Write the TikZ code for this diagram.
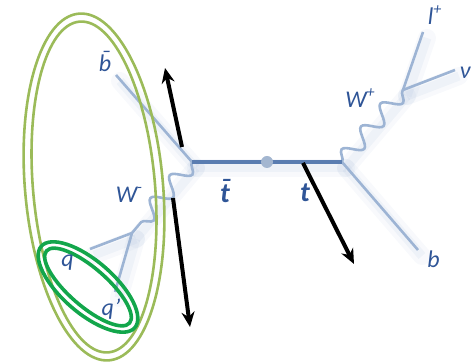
\documentclass[tikz,border=0pt]{standalone}
\usepackage{fontspec}
\setmainfont{Carlito}
\usetikzlibrary{arrows.meta, decorations.pathmorphing, calc}
\usepackage{xcolor}
\definecolor{fermlight}{HTML}{9DB4D4}
\definecolor{topblue}{HTML}{5A7DB1}
\definecolor{dotblue}{HTML}{A3B6D0}
\definecolor{labelblue}{HTML}{2F5597}
\definecolor{glowblue}{HTML}{6F8FC0}
\definecolor{olivegreen}{HTML}{9BBB59}
\definecolor{jetgreen}{HTML}{12A64B}
\newcommand{\barred}[1]{\accent"00AF #1}
\newcommand{\charge}[1]{\raisebox{0.42em}{\fontsize{16}{16}\selectfont #1}}
\tikzset{
  fermion/.style={draw=fermlight, line width=2.6pt},
  topline/.style={draw=topblue, line width=4.2pt},
  boson/.style={draw=fermlight, line width=2.6pt, decorate,
                decoration={snake, amplitude=8.5pt, segment length=30pt}},
  glow/.style={draw=glowblue, line width=18pt, opacity=0.05, line cap=round,
               preaction={draw=glowblue, line width=9pt, opacity=0.07}},
  jetarrow/.style={-{Stealth[length=15pt,width=13pt]}, line width=4pt, draw=black},
  plabel/.style={text=labelblue, font=\itshape\fontsize{24}{24}\selectfont, inner sep=0pt},
  tlabel/.style={text=labelblue, font=\bfseries\itshape\fontsize{28}{28}\selectfont, inner sep=0pt},
  olivering/.style={draw=olivegreen, line width=2.6pt},
  jetring/.style={draw=jetgreen, line width=3.6pt},
}

\begin{document}
\begin{tikzpicture}[x=1pt, y=1pt]
  \useasboundingbox (0,0) rectangle (472,363);

  % vertices and line ends
  \coordinate (tbv)   at (192,201);
  \coordinate (tv)    at (342,201);
  \coordinate (bbarend) at (116,288);
  \coordinate (wmv)   at (132,130);
  \coordinate (qend)  at (90,114);
  \coordinate (qpend) at (115,71);
  \coordinate (wpv)   at (403,273);
  \coordinate (lend)  at (423,331);
  \coordinate (nuend) at (455,293);
  \coordinate (bend)  at (418,113);

  % soft shadow under the lines
  \foreach \a/\b in {tbv/bbarend, tbv/wmv, wmv/qend, wmv/qpend, tbv/tv, tv/bend, tv/wpv, wpv/lend, wpv/nuend}
    \draw[glow] ($(\a)+(4,-6)$) -- ($(\b)+(4,-6)$);

  % decay lines
  \draw[fermion] (tbv) -- (bbarend);
  \draw[fermion] (wmv) -- (qend);
  \draw[fermion] (wmv) -- (qpend);
  \draw[fermion] (tv) -- (bend);
  \draw[fermion] (wpv) -- (lend);
  \draw[fermion] (wpv) -- (nuend);
  \draw[boson] (tbv) -- (wmv);
  \draw[boson] (tv) -- (wpv);
  \draw[topline] (tbv) -- (tv);
  \node[circle, fill=dotblue, minimum size=12pt, inner sep=0pt] (mid) at (267,201) {};

  % jet directions
  \coordinate (ja0) at (182,216); \coordinate (ja1) at (165,295);
  \coordinate (jb0) at (173,165); \coordinate (jb1) at (190,36);
  \coordinate (jc0) at (303,200); \coordinate (jc1) at (354,99);
  \draw[jetarrow] (ja0) -- (ja1);
  \draw[jetarrow] (jb0) -- (jb1);
  \draw[jetarrow] (jc0) -- (jc1);

  % jet cones
  \draw[olivering, rotate around={5:(94,176)}] (94,176) ellipse [x radius=69, y radius=174];
  \draw[olivering, rotate around={5:(94,176)}] (94,176) ellipse [x radius=61, y radius=166];
  \draw[jetring, rotate around={-41:(88,76)}] (88,76) ellipse [x radius=62, y radius=26];
  \draw[jetring, rotate around={-41:(88,76)}] (88,76) ellipse [x radius=55, y radius=19];

  % labels
  \node[plabel] (bbarlab) at (105,301.5) {\barred{b}};
  \node[plabel] (wmlab)   at (129,168) {W\charge{-}};
  \node[plabel] (qlab)    at (67.5,100.5) {q};
  \node[plabel] (qplab)   at (111,53.5) {q\kern0.5pt'};
  \node[tlabel] (tbarlab) at (225,172) {\barred{t}};
  \node[tlabel] (tlab)    at (305,170.5) {t};
  \node[plabel] (wplab)   at (360,265) {W\charge{+}};
  \node[plabel] (llab)    at (434.5,347.5) {l\charge{+}};
  \node[plabel] (nulab)   at (465,290) {ν};
  \node[plabel] (blab)    at (433.5,103.5) {b};
\end{tikzpicture}
\end{document}
